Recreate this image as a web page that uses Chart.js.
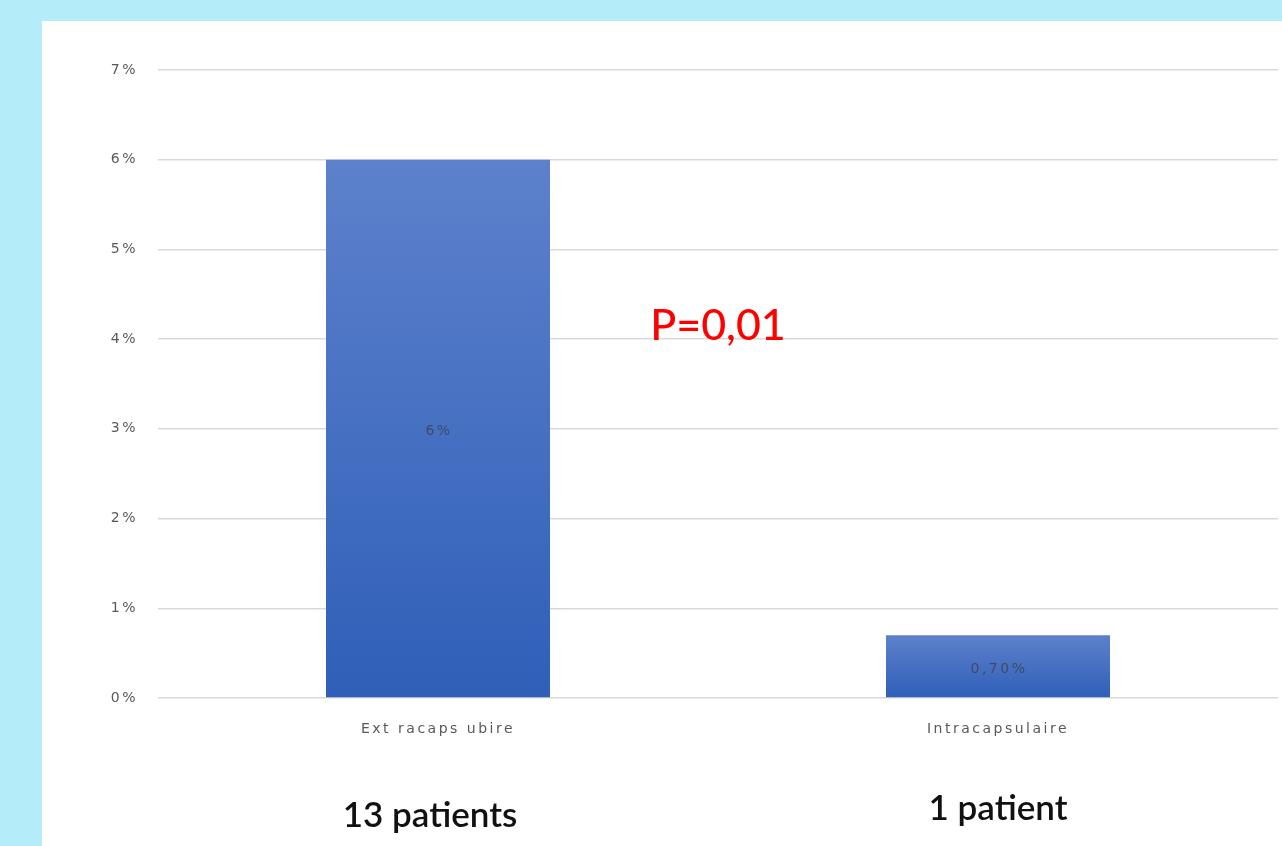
<!DOCTYPE html>
<html>
<head>
<meta charset="utf-8">
<script src="https://cdn.jsdelivr.net/npm/chart.js@4"></script>
<style>
  html, body { margin: 0; padding: 0; }
  body { width: 1282px; height: 846px; background: #b5ecfa; overflow: hidden; position: relative; }
  #panel { position: absolute; left: 42px; top: 21px; width: 1240px; height: 825px; background: #ffffff; }
  #panel canvas { display: block; }
</style>
</head>
<body>
<div id="panel"><canvas id="dataChart" width="1240" height="825"></canvas></div>
<script>
// Chart data
const categories = ['Ext racaps ubire', 'Intracapsulaire'];
const percentValues = [6, 0.7];
const valueLabels = ['6%', '0,70%'];
const patientLabels = ['13 patients', '1 patient'];
const yTicks = [0, 1, 2, 3, 4, 5, 6, 7];
const pValueText = 'P=0,01';
const pValueLevel = 4.15;

const SMALL_FONT = '"DejaVu Sans", Verdana, sans-serif';
const WIDE_SPACING = '2.5px';

function barGradient(context) {
    const chart = context.chart;
    const area = chart.chartArea;
    if (!area) return '#4472c4';
    const yScale = chart.scales.y;
    const top = yScale.getPixelForValue(context.raw);
    const bottom = yScale.getPixelForValue(0);
    const g = chart.ctx.createLinearGradient(0, top, 0, bottom);
    g.addColorStop(0, '#5d81cc');
    g.addColorStop(1, '#2f5fb8');
    return g;
}

// the source picture has stretched small text, so widen the axis labels a bit
const spacingPlugin = {
    id: 'spacing',
    beforeDraw(chart) {
        chart.ctx.letterSpacing = WIDE_SPACING;
    },
    beforeDatasetsDraw(chart) {
        chart.ctx.letterSpacing = '0px';
    }
};

// draws value labels, the p-value and the patient counts
const annotationPlugin = {
    id: 'annotations',
    afterDatasetsDraw(chart) {
        const ctx = chart.ctx;
        const meta = chart.getDatasetMeta(0);
        const xScale = chart.scales.x;
        const yScale = chart.scales.y;
        ctx.save();
        ctx.textAlign = 'center';
        ctx.textBaseline = 'middle';

        ctx.letterSpacing = WIDE_SPACING;
        ctx.font = '14px ' + SMALL_FONT;
        ctx.fillStyle = '#404b63';
        meta.data.forEach((bar, i) => {
            ctx.fillText(valueLabels[i], bar.x + 1, (bar.y + bar.base) / 2 + 3);
        });

        ctx.letterSpacing = '0px';
        ctx.font = '500 43px Lato, "Open Sans", sans-serif';
        ctx.fillStyle = '#ff0000';
        const midX = (xScale.getPixelForValue(0) + xScale.getPixelForValue(1)) / 2;
        ctx.fillText(pValueText, midX, yScale.getPixelForValue(pValueLevel));

        ctx.font = '600 35px Lato, "Open Sans", sans-serif';
        ctx.fillStyle = '#111111';
        const bottom = yScale.getPixelForValue(0);
        ctx.fillText(patientLabels[0], xScale.getPixelForValue(0) - 8, bottom + 118);
        ctx.fillText(patientLabels[1], xScale.getPixelForValue(1), bottom + 111);
        ctx.restore();
    }
};

const ctx = document.getElementById('dataChart').getContext('2d');
new Chart(ctx, {
    type: 'bar',
    data: {
        labels: categories,
        datasets: [{
            data: percentValues,
            backgroundColor: barGradient,
            borderWidth: 0,
            categoryPercentage: 0.4,
            barPercentage: 1
        }]
    },
    options: {
        responsive: false,
        animation: false,
        layout: { padding: { top: 49, right: 4, left: 0, bottom: 0 } },
        plugins: {
            legend: { display: false },
            tooltip: { enabled: false }
        },
        scales: {
            x: {
                grid: { display: false, drawTicks: false },
                border: { display: false },
                ticks: {
                    color: '#595959',
                    padding: 23,
                    font: { family: SMALL_FONT, size: 14 }
                },
                afterFit(scale) { scale.height = 148; }
            },
            y: {
                min: 0,
                max: 7,
                afterBuildTicks(scale) { scale.ticks = yTicks.map(v => ({ value: v })); },
                grid: { color: '#d9d9d9', lineWidth: 1.5, drawTicks: false },
                border: { display: false },
                ticks: {
                    color: '#595959',
                    padding: 20,
                    callback: v => v + '%',
                    font: { family: SMALL_FONT, size: 14 }
                },
                afterFit(scale) { scale.width = 116; }
            }
        }
    },
    plugins: [spacingPlugin, annotationPlugin]
});
</script>
</body>
</html>
